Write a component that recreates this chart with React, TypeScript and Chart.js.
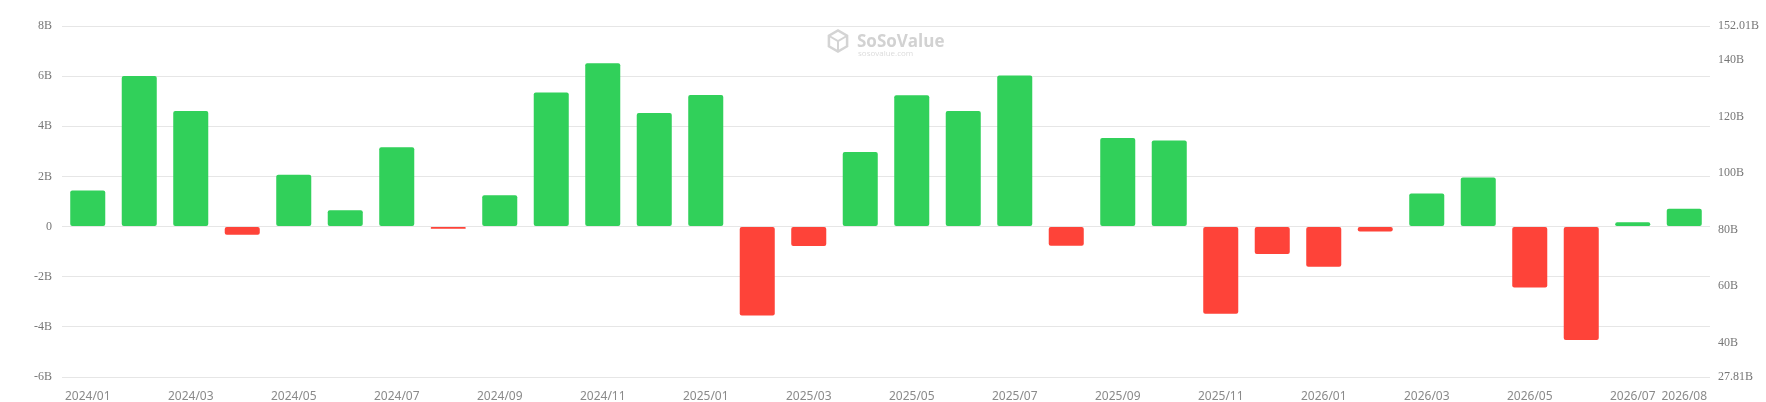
import React, { useEffect, useRef } from "react";
import { Chart, registerables } from "chart.js";

Chart.register(...registerables);

const months = [
  "2024/01", "2024/02", "2024/03", "2024/04", "2024/05", "2024/06", "2024/07", "2024/08",
  "2024/09", "2024/10", "2024/11", "2024/12", "2025/01", "2025/02", "2025/03", "2025/04",
  "2025/05", "2025/06", "2025/07", "2025/08", "2025/09", "2025/10", "2025/11", "2025/12",
  "2026/01", "2026/02", "2026/03", "2026/04", "2026/05", "2026/06", "2026/07", "2026/08",
];

// monthly net inflow, in billions
const netInflow = [
  1.44, 6.01, 4.61, -0.33, 2.07, 0.65, 3.16, -0.09,
  1.25, 5.35, 6.51, 4.53, 5.25, -3.55, -0.77, 2.97,
  5.24, 4.61, 6.03, -0.76, 3.53, 3.43, -3.48, -1.09,
  -1.6, -0.2, 1.32, 1.96, -2.43, -4.52, 0.17, 0.71,
];

const leftMin = -6;
const leftMax = 8;
const rightTicks = [27.81, 40, 60, 80, 100, 120, 140, 152.01];

const GREEN = "#31d05a";
const RED = "#fe4339";

const watermark = {
  id: "watermark",
  afterDraw(chart: Chart) {
    const ctx = chart.ctx;
    ctx.save();
    // cube icon
    const cx = 838;
    const cy = 41;
    const r = 10.5;
    ctx.strokeStyle = "#d4d4d4";
    ctx.lineWidth = 2.5;
    ctx.beginPath();
    for (let i = 0; i < 6; i++) {
      const a = Math.PI / 6 + (i * Math.PI) / 3;
      const px = cx + r * Math.cos(a);
      const py = cy + r * Math.sin(a);
      if (i === 0) ctx.moveTo(px, py);
      else ctx.lineTo(px, py);
    }
    ctx.closePath();
    ctx.stroke();
    ctx.lineWidth = 2;
    ctx.beginPath();
    ctx.moveTo(cx - r * 0.87, cy - r * 0.5);
    ctx.lineTo(cx, cy);
    ctx.lineTo(cx + r * 0.87, cy - r * 0.5);
    ctx.moveTo(cx, cy);
    ctx.lineTo(cx, cy + r);
    ctx.stroke();
    ctx.fillStyle = "#d2d2d2";
    ctx.font = "bold 17px 'Open Sans', sans-serif";
    ctx.textBaseline = "alphabetic";
    ctx.fillText("SoSoValue", 857, 47);
    ctx.font = "8px 'Open Sans', sans-serif";
    ctx.fillStyle = "#dcdcdc";
    ctx.fillText("sosovalue.com", 858, 56);
    ctx.restore();
  },
};

const App: React.FC = () => {
  const chartRef = useRef<HTMLCanvasElement | null>(null);
  const chartInstance = useRef<Chart | null>(null);

  useEffect(() => {
    document.body.style.margin = "0";
    if (chartRef.current) {
      const ctx = chartRef.current.getContext("2d");
      if (ctx) {
        if (chartInstance.current) {
          chartInstance.current.destroy();
        }
        chartInstance.current = new Chart(ctx, {
          type: "bar",
          data: {
            labels: months,
            datasets: [
              {
                label: "Net Inflow",
                data: netInflow,
                yAxisID: "y",
                backgroundColor: netInflow.map((v) => (v >= 0 ? GREEN : RED)),
                borderRadius: 2,
                borderSkipped: false,
                barPercentage: 0.68,
                categoryPercentage: 1,
              },
            ],
          },
          options: {
            animation: false,
            responsive: true,
            maintainAspectRatio: false,
            layout: { padding: { top: 26, left: 0, right: 0, bottom: 0 } },
            plugins: {
              legend: { display: false },
              tooltip: { enabled: false },
            },
            scales: {
              x: {
                grid: { display: false },
                border: { display: false },
                ticks: {
                  autoSkip: false,
                  maxRotation: 0,
                  minRotation: 0,
                  padding: 4,
                  color: "#8a8a8a",
                  font: { family: "'Noto Sans', sans-serif", size: 12 },
                  callback: (_v, i) =>
                    i % 2 === 0 || i === months.length - 1 ? months[i] : "",
                },
                afterFit: (scale) => {
                  scale.height = 25;
                },
              },
              y: {
                position: "left",
                min: leftMin,
                max: leftMax,
                grid: { color: "#e6e6e6", drawTicks: false },
                border: { display: false },
                ticks: {
                  stepSize: 2,
                  padding: 10,
                  color: "#777",
                  font: { family: "'Liberation Serif', serif", size: 12 },
                  callback: (v) => (Number(v) === 0 ? "0" : `${v}B`),
                },
                afterFit: (scale) => {
                  scale.width = 62;
                },
              },
              y1: {
                position: "right",
                display: true,
                min: rightTicks[0],
                max: rightTicks[rightTicks.length - 1],
                grid: { display: false, drawTicks: false },
                border: { display: false },
                afterBuildTicks: (scale) => {
                  scale.ticks = rightTicks.map((value) => ({ value }));
                },
                ticks: {
                  padding: 8,
                  color: "#777",
                  font: { family: "'Liberation Serif', serif", size: 12 },
                  callback: (v) => `${v}B`,
                },
                afterFit: (scale) => {
                  scale.width = 56;
                },
              },
            },
          },
          plugins: [watermark],
        });
      }
    }
    return () => {
      if (chartInstance.current) {
        chartInstance.current.destroy();
        chartInstance.current = null;
      }
    };
  }, []);

  return (
    <div style={{ position: "relative", width: 1766, height: 402, background: "#fff" }}>
      <canvas ref={chartRef} />
    </div>
  );
};

export default App;
